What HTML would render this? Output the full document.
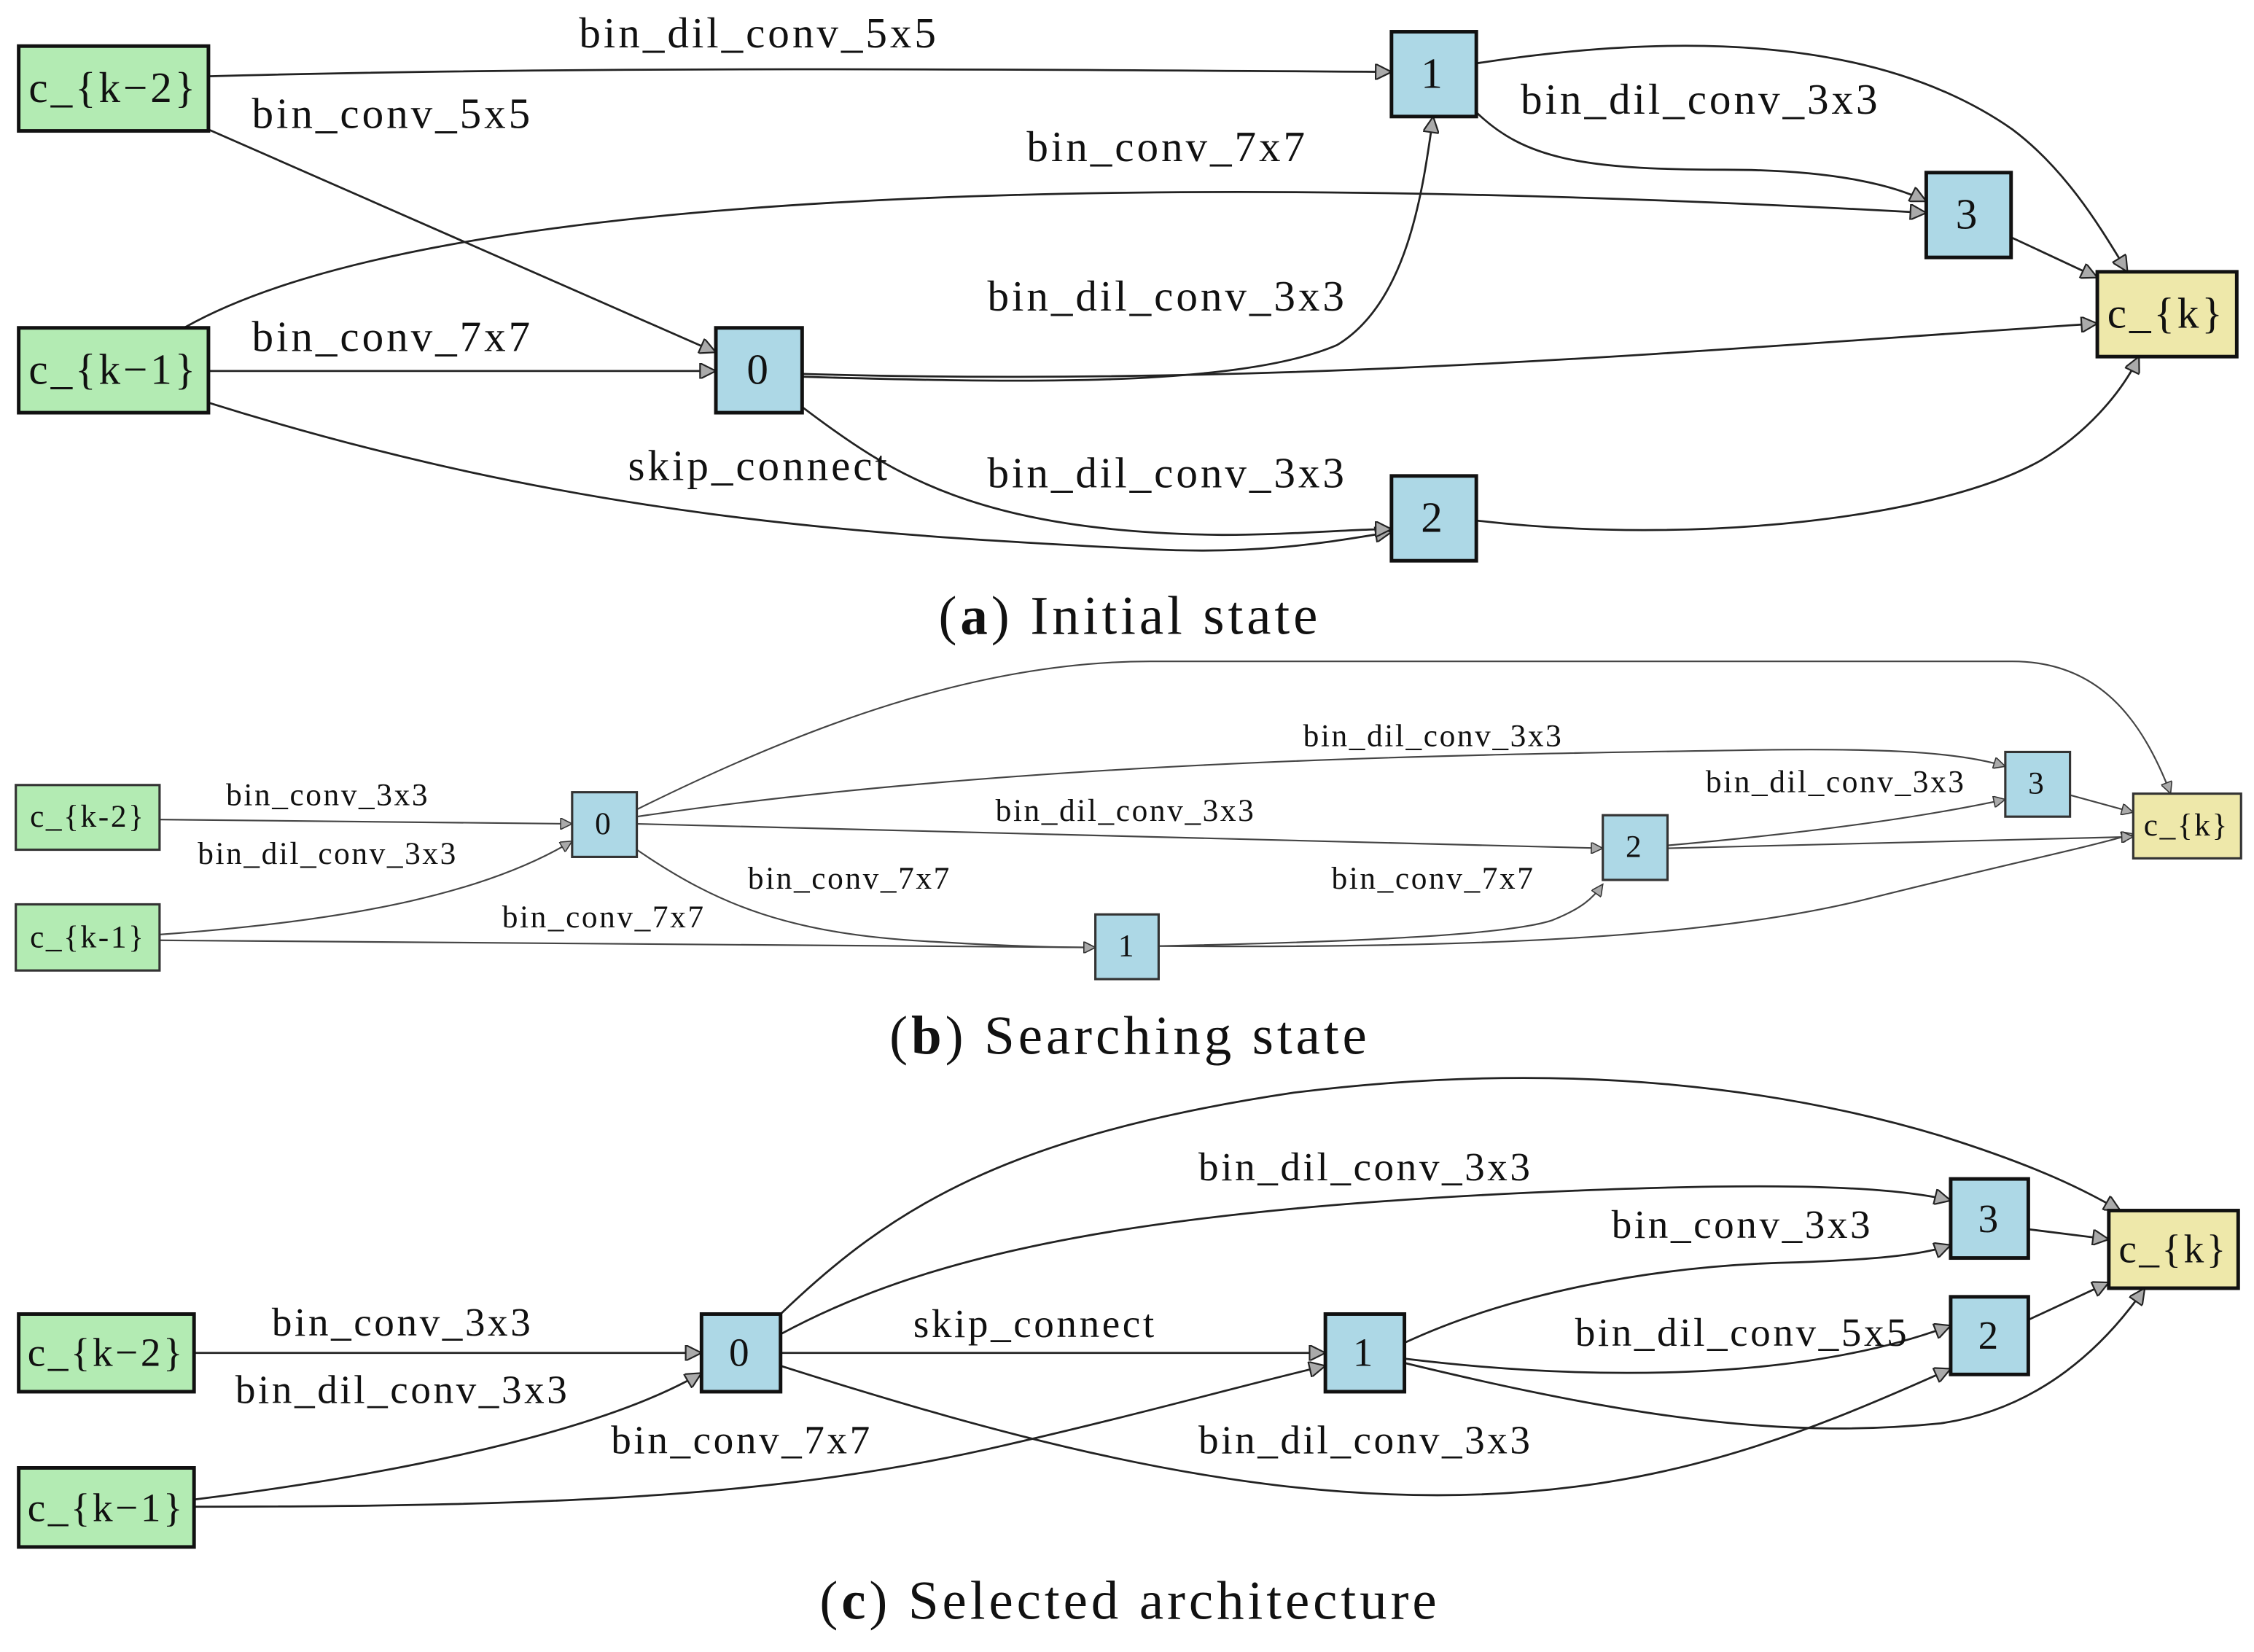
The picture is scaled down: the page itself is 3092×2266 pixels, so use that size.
<!DOCTYPE html>
<html><head><meta charset="utf-8"><style>
html,body{margin:0;padding:0;background:#fff}
svg{display:block}
text{font-family:"Liberation Serif",serif;fill:#111}
</style></head><body>
<svg width="3092" height="2266" viewBox="0 0 1568 1149" xmlns="http://www.w3.org/2000/svg">
<defs>
<marker id="a" viewBox="0 0 10 10" refX="10" refY="5" markerWidth="16" markerHeight="11" markerUnits="userSpaceOnUse" orient="auto">
<path d="M0,0 L10,5 L0,10 z" fill="#aaa" stroke="#222" stroke-width="1"/></marker>
<marker id="b" viewBox="0 0 10 10" refX="10" refY="5" markerWidth="11" markerHeight="8" markerUnits="userSpaceOnUse" orient="auto">
<path d="M0,0 L10,5 L0,10 z" fill="#aaa" stroke="#333" stroke-width="1"/></marker>
</defs>

<!-- Panel A -->
<g fill="none" stroke="#222" stroke-width="1.4" marker-end="url(#a)">
<path d="M145,53 C400,46 700,48 968,50"/>
<path d="M145,90 L498,245"/>
<path d="M128,228 C300,130 800,118 1340,148"/>
<path d="M145,258 L498,258"/>
<path d="M145,280 C400,360 600,372 800,382 C880,386 930,376 968,370"/>
<path d="M558,262 C700,266 860,270 930,240 C980,210 990,130 997,81"/>
<path d="M558,260 C900,270 1200,242 1459,225"/>
<path d="M558,283 C620,330 680,370 850,372 C900,372 940,368 968,368"/>
<path d="M1027,78 C1060,110 1100,118 1200,118 C1280,118 1320,130 1340,140"/>
<path d="M1027,44 C1150,25 1300,20 1400,90 C1440,120 1465,165 1480,189"/>
<path d="M1399,165 L1459,193"/>
<path d="M1027,362 C1180,380 1350,360 1420,320 C1450,302 1475,275 1488,248"/>
</g>
<g stroke="#111" stroke-width="2.5">
<rect x="13" y="32" width="132" height="59" fill="#b3ebb3"/>
<rect x="13" y="228" width="132" height="59" fill="#b3ebb3"/>
<rect x="498" y="228" width="60" height="59" fill="#add8e6"/>
<rect x="968" y="22" width="59" height="59" fill="#add8e6"/>
<rect x="1340" y="120" width="59" height="59" fill="#add8e6"/>
<rect x="968" y="331" width="59" height="59" fill="#add8e6"/>
<rect x="1459" y="189" width="97" height="59" fill="#eee8aa"/>
</g>
<g font-size="30" text-anchor="middle" letter-spacing="2">
<text x="79" y="71">c_{k−2}</text>
<text x="79" y="267">c_{k−1}</text>
<text x="528" y="267">0</text>
<text x="997" y="61">1</text>
<text x="1369" y="159">3</text>
<text x="997" y="370">2</text>
<text x="1507" y="228">c_{k}</text>
<text x="528" y="33">bin_dil_conv_5x5</text>
<text x="273" y="89">bin_conv_5x5</text>
<text x="812" y="112">bin_conv_7x7</text>
<text x="273" y="244">bin_conv_7x7</text>
<text x="528" y="334">skip_connect</text>
<text x="812" y="216">bin_dil_conv_3x3</text>
<text x="812" y="339">bin_dil_conv_3x3</text>
<text x="1183" y="79">bin_dil_conv_3x3</text>
</g>
<text x="786" y="441" font-size="38" text-anchor="middle" letter-spacing="2.5">(<tspan font-weight="bold">a</tspan>) Initial state</text>

<!-- Panel B -->
<g fill="none" stroke="#444" stroke-width="1.1" marker-end="url(#b)">
<path d="M111,570 L398,573"/>
<path d="M111,650 C250,640 340,620 398,585"/>
<path d="M111,654 L762,659"/>
<path d="M443,563 C560,505 680,460 800,460 L1400,460 C1460,460 1490,500 1510,552"/>
<path d="M443,568 C700,530 1000,525 1200,522 C1300,520 1360,522 1395,533"/>
<path d="M443,573 L1115,590"/>
<path d="M443,591 C500,630 550,650 650,655 C700,658 740,659 762,659"/>
<path d="M806,658 C950,655 1050,650 1080,640 C1100,632 1108,625 1115,615"/>
<path d="M806,658 C1050,660 1200,650 1300,625 C1400,600 1450,590 1484,580"/>
<path d="M1160,588 C1250,580 1330,570 1395,556"/>
<path d="M1160,590 L1484,582"/>
<path d="M1440,553 L1484,565"/>
</g>
<g stroke="#333" stroke-width="1.6">
<rect x="11" y="546" width="100" height="45" fill="#b3ebb3"/>
<rect x="11" y="629" width="100" height="46" fill="#b3ebb3"/>
<rect x="398" y="551" width="45" height="45" fill="#add8e6"/>
<rect x="762" y="636" width="44" height="45" fill="#add8e6"/>
<rect x="1115" y="567" width="45" height="45" fill="#add8e6"/>
<rect x="1395" y="523" width="45" height="45" fill="#add8e6"/>
<rect x="1484" y="552" width="75" height="45" fill="#eee8aa"/>
</g>
<g font-size="22" text-anchor="middle" fill="#333" letter-spacing="1.3">
<text x="61" y="575">c_{k-2}</text>
<text x="61" y="659">c_{k-1}</text>
<text x="420" y="580">0</text>
<text x="784" y="665">1</text>
<text x="1137" y="596">2</text>
<text x="1417" y="552">3</text>
<text x="1521" y="581">c_{k}</text>
<text x="228" y="560">bin_conv_3x3</text>
<text x="228" y="601">bin_dil_conv_3x3</text>
<text x="420" y="645">bin_conv_7x7</text>
<text x="997" y="519">bin_dil_conv_3x3</text>
<text x="783" y="571">bin_dil_conv_3x3</text>
<text x="591" y="618">bin_conv_7x7</text>
<text x="997" y="618">bin_conv_7x7</text>
<text x="1277" y="551">bin_dil_conv_3x3</text>
</g>
<text x="786" y="733" font-size="38" text-anchor="middle" letter-spacing="2.5">(<tspan font-weight="bold">b</tspan>) Searching state</text>

<!-- Panel C -->
<g fill="none" stroke="#222" stroke-width="1.4" marker-end="url(#a)">
<path d="M135,941 L488,941"/>
<path d="M135,1043 C280,1025 420,995 488,955"/>
<path d="M135,1048 C400,1048 550,1040 700,1005 C800,982 870,962 922,950"/>
<path d="M543,941 L922,941"/>
<path d="M543,914 C620,840 700,790 900,760 C1100,735 1250,760 1350,790 C1420,812 1450,828 1475,842"/>
<path d="M543,928 C650,870 800,840 1100,828 C1250,822 1320,826 1357,835"/>
<path d="M543,950 C700,1000 850,1040 1000,1040 C1150,1040 1250,1000 1357,952"/>
<path d="M977,934 C1050,900 1150,880 1250,878 C1310,876 1340,872 1357,866"/>
<path d="M977,945 C1100,960 1250,962 1357,922"/>
<path d="M977,948 C1150,990 1250,1000 1350,990 C1420,980 1465,935 1492,896"/>
<path d="M1411,855 L1467,862"/>
<path d="M1411,918 L1467,892"/>
</g>
<g stroke="#111" stroke-width="2.5">
<rect x="13" y="914" width="122" height="54" fill="#b3ebb3"/>
<rect x="13" y="1021" width="122" height="55" fill="#b3ebb3"/>
<rect x="488" y="914" width="55" height="54" fill="#add8e6"/>
<rect x="922" y="914" width="55" height="54" fill="#add8e6"/>
<rect x="1357" y="820" width="54" height="55" fill="#add8e6"/>
<rect x="1357" y="902" width="54" height="54" fill="#add8e6"/>
<rect x="1467" y="842" width="90" height="54" fill="#eee8aa"/>
</g>
<g font-size="28" text-anchor="middle" letter-spacing="1.8">
<text x="74" y="950">c_{k−2}</text>
<text x="74" y="1058">c_{k−1}</text>
<text x="515" y="950">0</text>
<text x="949" y="950">1</text>
<text x="1384" y="857">3</text>
<text x="1384" y="938">2</text>
<text x="1512" y="878">c_{k}</text>
<text x="280" y="929">bin_conv_3x3</text>
<text x="280" y="976">bin_dil_conv_3x3</text>
<text x="516" y="1011">bin_conv_7x7</text>
<text x="720" y="930">skip_connect</text>
<text x="950" y="821">bin_dil_conv_3x3</text>
<text x="950" y="1011">bin_dil_conv_3x3</text>
<text x="1212" y="861">bin_conv_3x3</text>
<text x="1212" y="936">bin_dil_conv_5x5</text>
</g>
<text x="786" y="1126" font-size="38" text-anchor="middle" letter-spacing="2.5">(<tspan font-weight="bold">c</tspan>) Selected architecture</text>
</svg>
</body></html>
